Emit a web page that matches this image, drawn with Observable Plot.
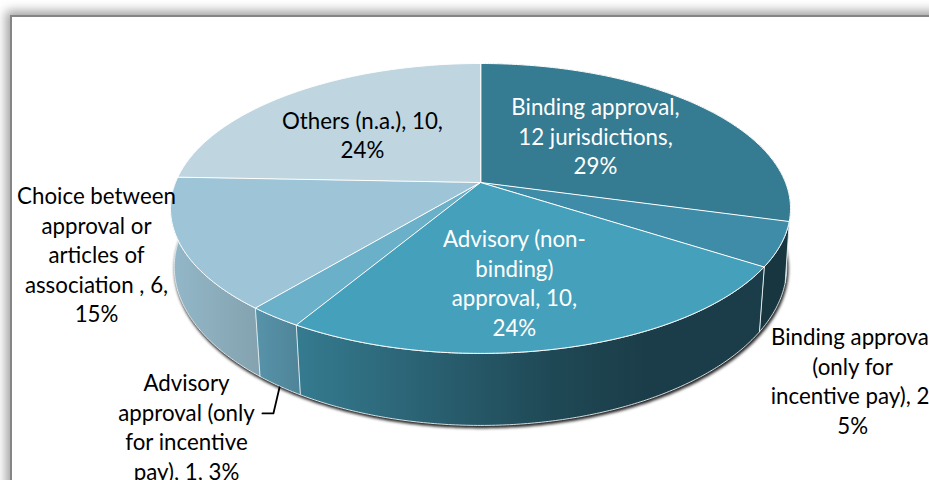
<!DOCTYPE html>
<html>
<head>
<meta charset="utf-8">
<script src="https://cdn.jsdelivr.net/npm/d3@7"></script>
<script src="https://cdn.jsdelivr.net/npm/@observablehq/plot@0.6"></script>
<style>
html,body{margin:0;padding:0;width:929px;height:480px;overflow:hidden;background:#fff}
#frame{position:absolute;left:10px;top:15px;width:1100px;height:800px;border:2px solid #858585;box-shadow:-1px -1px 10px 3px #a0a0a0;background:#fff}
#chart{position:absolute;left:0;top:0}
svg{background:transparent!important;display:block}
</style>
</head>
<body>
<div id="frame"></div>
<div id="chart"></div>
<script>
// Data
const categories = ["Binding approval", "Binding approval (only for incentive pay)", "Advisory (non-binding) approval", "Advisory approval (only for incentive pay)", "Choice between approval or articles of association", "Others (n.a.)"];
const counts = [12, 2, 10, 1, 6, 10];
const percents = [29, 5, 24, 3, 15, 24];
const labelTexts = [
  "Binding approval,\n12 jurisdictions,\n29%",
  "Binding approval\n(only for\nincentive pay), 2,\n5%",
  "Advisory (non-\nbinding)\napproval, 10,\n24%",
  "Advisory\napproval (only\nfor incentive\npay), 1, 3%",
  "Choice between\napproval or\narticles of\nassociation , 6,\n15%",
  "Others (n.a.), 10,\n24%"
];

// Style and layout, separate from the data
const topColors = ["#357b92", "#3f8ca8", "#45a1bb", "#6ab0c8", "#9dc5d7", "#bfd5e0"];
const wallFills = ["#17363f", "#17363f", "url(#wallAdvisory)", "url(#wallAdvInc)", "url(#wallChoice)", "#bfd5e0"];
const labelColors = ["white", "black", "white", "black", "black", "black"];
const labelU = [0.377, 1.22, 0.111, -0.964, -1.259, -0.387];
const labelV = [0.338, -1.407, -0.71, -1.737, -0.507, 0.345];
const leaderU = [-0.715, -0.679, -0.659];
const leaderV = [-1.646, -1.646, -1.461];

// Perspective of the disc
const tilt = 0.179, wallScaleU = 0.99, wallScaleUSlope = 0.012, wallScaleV = 1.08, wallShift = -0.416;
const total = d3.sum(counts);
const cum = d3.cumsum(counts);
const topPoint = t => {
  const X = Math.sin(t), Y = Math.cos(t), d = 1 + tilt * Y;
  return {u: X / d, v: Y / d};
};
const bottomPoint = t => {
  const p = topPoint(t);
  return {u: p.u * (wallScaleU + wallScaleUSlope * p.v), v: p.v * wallScaleV + wallShift};
};
const arc = (fn, a0, a1) => {
  const n = Math.max(2, Math.ceil((a1 - a0) / 0.01));
  return d3.range(n + 1).map(i => fn(a0 + (a1 - a0) * i / n));
};
const bounds = counts.map((c, i) => [
  (cum[i] - c) / total * 2 * Math.PI,
  cum[i] / total * 2 * Math.PI
]);
const wedge = ([a0, a1]) => [{u: 0, v: 0}, ...arc(topPoint, a0, a1)];
const wall = ([a0, a1]) => [...arc(topPoint, a0, a1), ...arc(bottomPoint, a0, a1).reverse()];
const baseOutline = arc(bottomPoint, 0, 2 * Math.PI);

const gradient = (id, stops) => {
  const g = d3.create("svg:linearGradient").attr("id", id).attr("x1", 0).attr("x2", 1).attr("y1", 0).attr("y2", 0);
  stops.forEach(([o, c]) => g.append("stop").attr("offset", o).attr("stop-color", c));
  return g.node();
};
const defsMark = () => {
  const d = d3.create("svg:defs");
  d.append(() => gradient("wallAdvisory", [[0, "#357b90"], [0.55, "#1f4855"], [0.75, "#1b3d49"], [1, "#1b3d49"]]));
  d.append(() => gradient("wallAdvInc", [[0, "#5793aa"], [1, "#4f8498"]]));
  d.append(() => gradient("wallChoice", [[0, "#93b8c9"], [1, "#84a2af"]]));
  return d.node();
};

const font = "Lato, Carlito, Calibri, sans-serif";
const frontOrder = [4, 3, 0, 1, 2]; // back-most first
const plot = Plot.plot({
  width: 929, height: 480,
  margin: 0,
  x: {domain: [-1, 1], range: [175, 785], axis: null},
  y: {domain: [-1, 1], range: [322.3, 41.7], axis: null},
  style: {background: "transparent", fontFamily: font},
  marks: [
    defsMark,
    Plot.line(baseOutline, {x: "u", y: "v", curve: "linear-closed", fill: "#222", stroke: "#222", strokeWidth: 1.5, dx: 1, dy: 2, imageFilter: "blur(1.5px)"}),
    ...frontOrder.map(i => Plot.line(wall(bounds[i]), {
      x: "u", y: "v", curve: "linear-closed", fill: wallFills[i],
      stroke: "#e8f0f3", strokeWidth: 0.9
    })),
    ...counts.map((c, i) => Plot.line(wedge(bounds[i]), {
      x: "u", y: "v", curve: "linear-closed", fill: topColors[i],
      stroke: "white", strokeWidth: 1
    })),
    Plot.line(leaderU.map((u, i) => ({u, v: leaderV[i]})), {x: "u", y: "v", stroke: "black", strokeWidth: 1.8}),
    ...labelTexts.map((t, i) => Plot.text([t], {
      x: () => labelU[i], y: () => labelV[i], text: d => d,
      fill: labelColors[i], fontSize: 22.3, lineHeight: 1.323,
      textAnchor: "middle", lineAnchor: "middle", fontFamily: font
    }))
  ]
});
document.getElementById("chart").appendChild(plot);
</script>
</body>
</html>
